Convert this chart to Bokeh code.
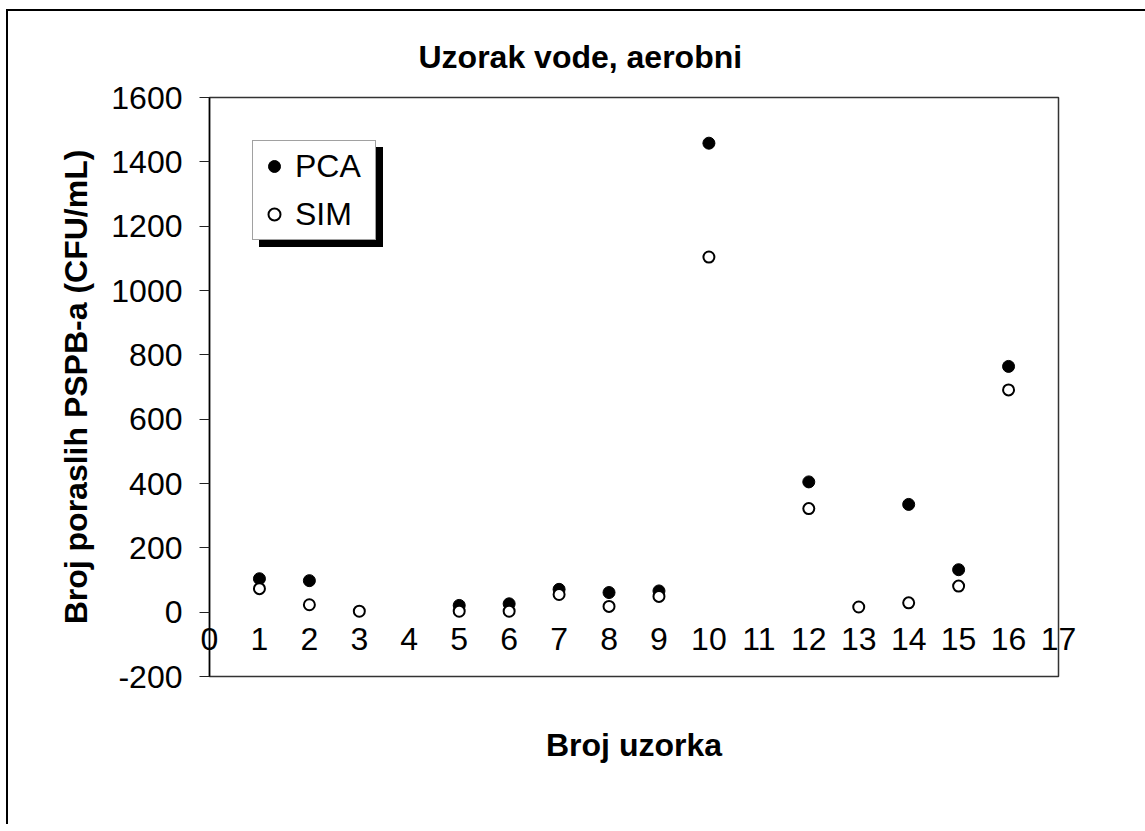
import math
from bokeh.plotting import figure
from bokeh.models import (LinearAxis, FixedTicker, Legend, LegendItem, Title, Range1d)
from bokeh.embed import file_html
from bokeh.resources import INLINE

# ---- data ----
sample_no = [1, 2, 3, 5, 6, 7, 8, 9, 10, 12, 13, 14, 15, 16]
pca = [104, 98, math.nan, 21, 26, 71, 61, 66, 1458, 405, math.nan, 335, 132, 764]
sim = [73, 23, 3, 3, 3, 55, 18, 49, 1104, 322, 16, 29, 81, 691]
x_ticks = list(range(0, 18))
y_ticks = list(range(-200, 1601, 200))
title_text = "Uzorak vode, aerobni"
x_label = "Broj uzorka"
y_label = "Broj poraslih PSPB-a (CFU/mL)"

FONT = "Liberation Sans"

p = figure(frame_width=849, frame_height=579,
           min_border_left=201, min_border_top=86, min_border_right=93, min_border_bottom=150,
           x_range=Range1d(0, 17), y_range=Range1d(-200, 1600),
           x_axis_location=None, y_axis_location="left",
           output_backend="svg", toolbar_location=None,
           background_fill_color="white", border_fill_color="white")
p.styles = {"margin-left": "8px", "margin-top": "11px",
            "box-shadow": "-2px -2px 0 0 black"}

p.xgrid.visible = False
p.ygrid.visible = False
p.outline_line_color = "#333333"
p.outline_line_width = 1.5

# y axis
ya = p.yaxis[0]
ya.ticker = FixedTicker(ticks=y_ticks)
ya.major_label_overrides = {t: str(t) for t in y_ticks}
ya.axis_line_color = "black"
ya.axis_line_width = 1.5
ya.major_tick_out = 10
ya.major_tick_in = 0
ya.major_tick_line_color = "#222222"
ya.major_tick_line_width = 1.2
ya.minor_tick_line_color = None
ya.major_label_text_font = FONT
ya.major_label_text_font_size = "32px"
ya.major_label_text_color = "black"
ya.major_label_standoff = 17
ya.axis_label = y_label
ya.axis_label_text_font = FONT
ya.axis_label_text_font_size = "32px"
ya.axis_label_text_font_style = "bold"
ya.axis_label_text_color = "black"
ya.axis_label_standoff = 14

# x tick label axis: drawn at the frame bottom, labels shifted up next to y=0
xt = LinearAxis(ticker=FixedTicker(ticks=x_ticks),
                axis_line_color=None, major_tick_line_color=None,
                minor_tick_line_color=None, major_tick_out=0, major_tick_in=0,
                major_label_text_font=FONT,
                major_label_text_font_size="32px", major_label_text_color="black",
                major_label_standoff=-49)
p.add_layout(xt, "below")

# x label axis (no ticks)
xlab = LinearAxis(ticker=FixedTicker(ticks=[]), axis_line_color=None,
                  major_tick_line_color=None, minor_tick_line_color=None,
                  axis_label=x_label, axis_label_text_font=FONT,
                  axis_label_text_font_size="32px", axis_label_text_font_style="bold",
                  axis_label_text_color="black", axis_label_standoff=50)
p.add_layout(xlab, "below")

# title
p.title = Title(text=title_text, align="left", offset=209, text_font=FONT,
                text_font_size="32px", text_font_style="bold", text_color="black",
                standoff=45)

# data
r_pca = p.scatter(sample_no, pca, size=12, marker="circle",
                  fill_color="black", line_color="black", line_width=1)
r_sim = p.scatter(sample_no, sim, size=11, marker="circle",
                  fill_color="white", line_color="black", line_width=2)

common = dict(padding=6, glyph_width=30, glyph_height=38, label_height=38,
              label_width=74, label_standoff=6, spacing=10, margin=0,
              label_text_font=FONT, label_text_font_size="32px")

shadow = Legend(items=[LegendItem(label=" ", renderers=[r_pca]),
                       LegendItem(label=" ", renderers=[r_sim])],
                location=(50, 429), background_fill_color="black",
                background_fill_alpha=1.0, border_line_color="black",
                label_text_color="black", **common)
main = Legend(items=[LegendItem(label="PCA", renderers=[r_pca]),
                     LegendItem(label="SIM", renderers=[r_sim])],
              location=(43, 436), background_fill_color="white",
              background_fill_alpha=1.0, border_line_color="#444444",
              border_line_width=1.5, label_text_color="black", **common)
p.add_layout(shadow, "center")
p.add_layout(main, "center")

open("out.html", "w").write(file_html(p, INLINE))
